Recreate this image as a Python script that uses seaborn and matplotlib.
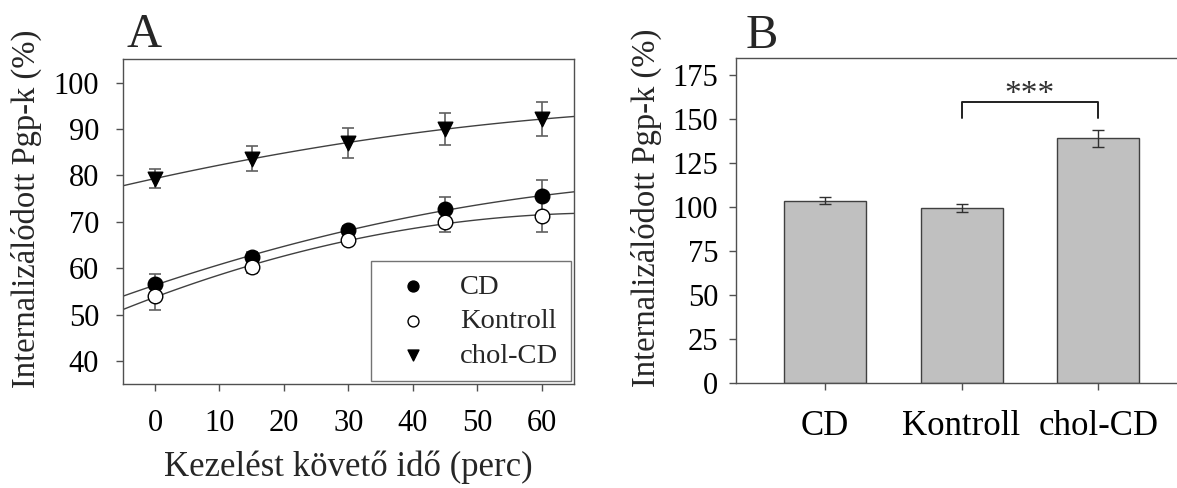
import numpy as np
import pandas as pd
import matplotlib
matplotlib.use("Agg")
import matplotlib.pyplot as plt
import seaborn as sns

# Panel A: internalised Pgp over time after treatment
times = [0, 15, 30, 45, 60]
cd_mean = [56.5, 62.5, 68.2, 72.7, 75.5]
cd_err = [2.2, 1.0, 0.8, 2.6, 3.5]
kontroll_mean = [54.0, 60.2, 66.0, 70.0, 71.3]
kontroll_err = [2.9, 1.2, 0.6, 2.3, 3.6]
cholcd_mean = [79.3, 83.6, 87.0, 90.0, 92.1]
cholcd_err = [2.1, 2.7, 3.3, 3.5, 3.7]

# Panel B: bars
bar_groups = ["CD", "Kontroll", "chol-CD"]
bar_mean = [103.9, 99.8, 139.2]
bar_err = [1.9, 2.3, 4.7]

series = {
    "CD": (cd_mean, cd_err),
    "Kontroll": (kontroll_mean, kontroll_err),
    "chol-CD": (cholcd_mean, cholcd_err),
}
styles = {
    "CD": dict(marker="o", facecolor="black"),
    "Kontroll": dict(marker="o", facecolor="white"),
    "chol-CD": dict(marker="v", facecolor="black"),
}

sns.set_theme(style="ticks")
plt.rcParams["font.family"] = ["Liberation Serif", "DejaVu Serif"]
plt.rcParams["axes.edgecolor"] = "#505050"
plt.rcParams["xtick.color"] = "#505050"
plt.rcParams["ytick.color"] = "#505050"
plt.rcParams["xtick.labelcolor"] = "black"
plt.rcParams["ytick.labelcolor"] = "black"

fig = plt.figure(figsize=(11.77, 4.88), dpi=100)
axA = fig.add_axes([0.1043, 0.2125, 0.3834, 0.666])
axB = fig.add_axes([0.6255, 0.2145, 0.383, 0.667])

# ---------- Panel A ----------
axA.set_xlim(-5, 65)
axA.set_ylim(35, 105)
for name, (mean, err) in series.items():
    df = pd.DataFrame({"t": times, "v": mean})
    # fitted curve through the points (2nd order)
    sns.regplot(data=df, x="t", y="v", order=2, ci=None, scatter=False,
                truncate=False, ax=axA,
                line_kws=dict(color="#404040", lw=1.0, zorder=2))
    axA.errorbar(times, mean, yerr=err, fmt="none", ecolor="#606060",
                 elinewidth=1.2, capsize=4, capthick=1.2, zorder=3)
    st = styles[name]
    sns.scatterplot(data=df, x="t", y="v", marker=st["marker"], s=110,
                    color=st["facecolor"], edgecolor="black", linewidth=1.0,
                    label=name, ax=axA, zorder=4)

axA.set_xlim(-5, 65)
axA.set_ylim(35, 105)
axA.set_xticks([0, 10, 20, 30, 40, 50, 60])
axA.set_yticks([40, 50, 60, 70, 80, 90, 100])
axA.tick_params(axis="both", direction="out", length=5, width=1, labelsize=22)
axA.tick_params(axis="x", pad=13)
axA.tick_params(axis="y", pad=12)
axA.set_xlabel("Kezelést követő idő (perc)", fontsize=25, labelpad=9)
axA.set_ylabel("Internalizálódott Pgp-k (%)", fontsize=23.5)
axA.yaxis.set_label_coords(-0.179, 0.54)
for sp in axA.spines.values():
    sp.set_visible(True)
    sp.set_linewidth(1.0)
leg = axA.legend(loc="lower right", fontsize=20.5, frameon=True, fancybox=False,
                 edgecolor="#505050", borderaxespad=0.1, handletextpad=0.67,
                 labelspacing=0.30, markerscale=0.75, borderpad=0.45,
                 handlelength=2.0)
leg.get_frame().set_linewidth(1.0)
axA.text(0.009, 1.037, "A", transform=axA.transAxes, fontsize=35,
         ha="left", va="baseline")

# ---------- Panel B ----------
bdf = pd.DataFrame({"group": bar_groups, "value": bar_mean})
sns.barplot(data=bdf, x="group", y="value", order=bar_groups, width=0.6,
            color="#c0c0c0", edgecolor="#404040", linewidth=1.0,
            errorbar=None, ax=axB, saturation=1)
axB.errorbar(np.arange(len(bar_groups)), bar_mean, yerr=bar_err, fmt="none",
             ecolor="#303030", elinewidth=1.0, capsize=4, capthick=1.0)
axB.set_xlim(-0.65, 2.65)
axB.set_ylim(0, 185)
axB.set_yticks(np.arange(0, 176, 25))
axB.tick_params(axis="both", direction="out", length=5, width=1)
axB.tick_params(axis="y", labelsize=22, pad=8)
axB.tick_params(axis="x", labelsize=25, pad=14)
axB.set_xlabel("")
axB.set_ylabel("Internalizálódott Pgp-k (%)", fontsize=23.5)
axB.yaxis.set_label_coords(-0.165, 0.54)
for sp in axB.spines.values():
    sp.set_visible(True)
    sp.set_linewidth(1.0)

# significance bracket between Kontroll and chol-CD
axB.plot([1, 1, 2, 2], [151, 160, 160, 151], color="#202020", lw=1.4)
axB.text(1.5, 159.5, "***", ha="center", va="baseline", fontsize=24,
         color="#303030")
axB.text(0.02, 1.03, "B", transform=axB.transAxes, fontsize=35,
         ha="left", va="baseline")

fig.savefig("out.png", dpi=100)
